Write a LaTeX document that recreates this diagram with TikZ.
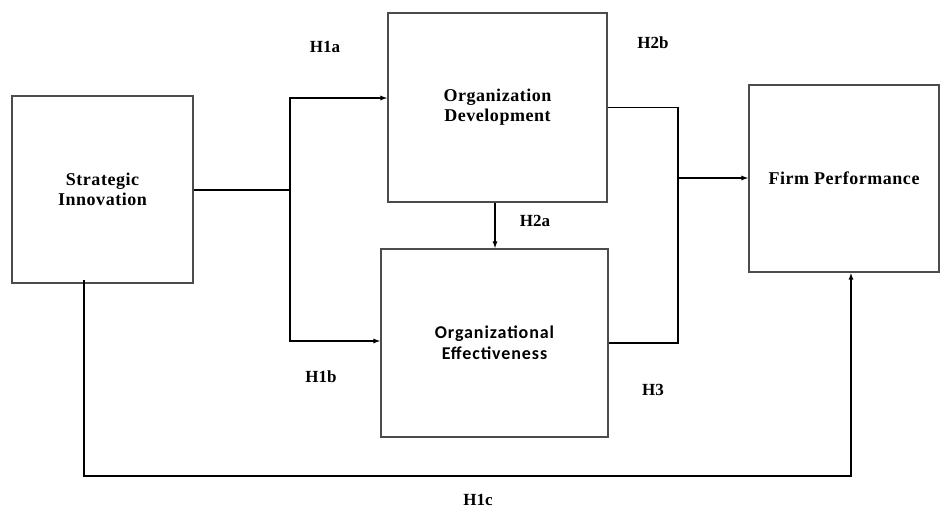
\documentclass[tikz,border=0pt]{standalone}
\usepackage{fontspec}
\setmainfont{Liberation Serif}
\newfontfamily\boxfont{Liberation Serif}[LetterSpace=3]
\newfontfamily\calibrifont{Carlito}[LetterSpace=5]
\usepackage{tikz}
\usetikzlibrary{arrows.meta, calc, positioning}

\tikzset{
   box/.style={draw=black!70, line width=1.1pt, rectangle, align=center,
      font=\fontsize{18}{20}\selectfont\boxfont\bfseries},
   link/.style={line width=1.2pt},
   hlabel/.style={font=\fontsize{17}{20}\selectfont\bfseries},
}

\begin{document}
\begin{tikzpicture}[x=1pt,y=-1pt,>={Latex[length=7pt,width=5pt]}]
   \useasboundingbox (0,0) rectangle (941,508);
   \node[box, minimum width=181pt, minimum height=187pt] (si) at (102.5,189.5)
      {Strategic\\Innovation};
   \node[box, minimum width=219pt, minimum height=189pt] (od) at (497.5,107.5)
      {Organization\\Development};
   \node[box, minimum width=227pt, minimum height=188pt,
      font=\fontsize{18}{21}\selectfont\calibrifont\bfseries] (oe) at (494.5,343)
      {Organizational\\Effectiveness};
   \node[box, minimum width=190pt, minimum height=187pt] (fp) at (844,178.5)
      {Firm Performance};
   % hypothesis labels
   \node[hlabel] (h1a) at (325,47) {H1a};
   \node[hlabel] (h1b) at (321,377) {H1b};
   \node[hlabel] (h2a) at (535,221) {H2a};
   \node[hlabel] (h2b) at (653,43) {H2b};
   \node[hlabel] (h3) at (653,390) {H3};
   \node[hlabel] (h1c) at (478,500) {H1c};
   % connectors
   \coordinate (split) at (290,190);
   \coordinate (join) at (678,178);
   \coordinate (lowL) at (84,476);
   \coordinate (lowR) at (851,476);
   \draw[link, line width=1.6pt] (si.east |- split) -- (split);
   \draw[link, ->] (split) |- ($(od.west)+(0,-9.5)$);
   \draw[link, ->] (split) |- ($(oe.west)+(0,-2)$);
   \draw[link, ->] (od.south -| 495,0) -- (oe.north -| 495,0);
   \draw[link] (od.east) -| (join);
   \draw[link] (oe.east) -| (join);
   \draw[link, ->] (join) -- (fp.west |- join);
   \draw[link, line width=2pt, ->] ($(si.south -| lowL)+(0,-4)$) -- (lowL) -- (lowR)
      -- (fp.south -| lowR);
\end{tikzpicture}
\end{document}
